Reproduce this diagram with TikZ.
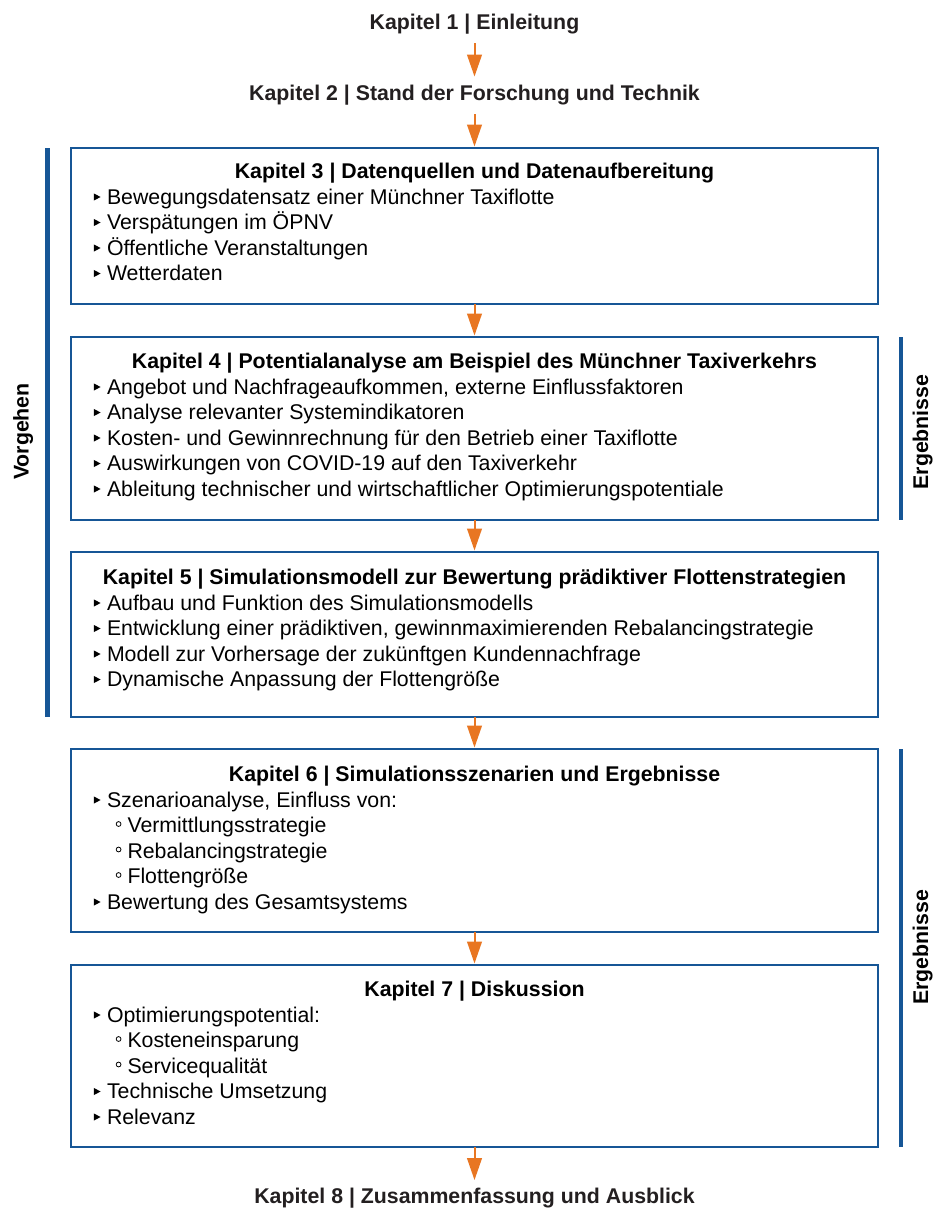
\documentclass[tikz,border=0pt]{standalone}
\usepackage{fontspec}
\setmainfont{Liberation Sans}
\usetikzlibrary{arrows.meta}

\definecolor{frameblue}{RGB}{22,86,150}
\definecolor{arroworange}{RGB}{232,118,34}
\definecolor{headgray}{RGB}{35,31,32}

\tikzset{
  every node/.style={inner sep=0pt, outer sep=0pt},
  itemtext/.style={anchor=base west, text=black, font=\fontsize{21.3}{25.5}\selectfont},
  boxtitle/.style={anchor=base, text=black, font=\fontsize{21.3}{25.5}\selectfont\bfseries},
  outertitle/.style={anchor=base, text=headgray, font=\fontsize{21.3}{25.5}\selectfont\bfseries},
  sidelabel/.style={anchor=base, rotate=90, text=black, font=\fontsize{21.3}{25.5}\selectfont\bfseries},
  chapbox/.style={draw=frameblue, line width=2pt, anchor=north west, minimum width=807pt},
  sidebar/.style={draw=frameblue},
  flow/.style={draw=arroworange, line width=2pt, -{Triangle[width=14.7pt,length=22pt]}},
  itemmark/.style={fill=black},
  subitemmark/.style={draw=black, line width=0.8pt},
}

% bullet list inside a chapter box: #1 name prefix, #2 first baseline, #3 level/text pairs
\newcommand\chapteritems[3]{%
  \foreach \lv/\tx [count=\i] in {#3} {%
    \pgfmathsetmacro\yy{#2+(\i-1)*25.5}%
    \ifnum\lv=1
      \fill[itemmark] (93.8,\yy-10.8) -- (93.8,\yy-3.6) -- (100.6,\yy-7.2) -- cycle;
      \node[itemtext] (#1-\i) at (107,\yy) {\tx};
    \else
      \draw[subitemmark] (118.6,\yy-8.7) circle[radius=2.4pt];
      \node[itemtext] (#1-\i) at (127.5,\yy) {\tx};
    \fi
  }%
}

\begin{document}
\begin{tikzpicture}[x=1pt, y=-1pt]
\useasboundingbox (0,0) rectangle (933,1208);

% chapters outside the boxes
\node[outertitle] (k1) at (474.5,29.7) {Kapitel 1 | Einleitung};
\node[outertitle] (k2) at (474.5,100.7) {Kapitel 2 | Stand der Forschung und Technik};
\node[outertitle] (k8) at (474.5,1203.7) {Kapitel 8 | Zusammenfassung und Ausblick};

% chapter boxes
\node[chapbox, minimum height=156pt] (b3) at (71,148) {};
\node[chapbox, minimum height=183pt] (b4) at (71,337) {};
\node[chapbox, minimum height=165pt] (b5) at (71,552) {};
\node[chapbox, minimum height=183pt] (b6) at (71,749) {};
\node[chapbox, minimum height=182pt] (b7) at (71,965) {};

% chapter 3
\node[boxtitle] (t3) at (474.5,178.7) {Kapitel 3 | Datenquellen und Datenaufbereitung};
\chapteritems{i3}{204.2}{1/Bewegungsdatensatz einer Münchner Taxiflotte,
  1/Verspätungen im ÖPNV, 1/Öffentliche Veranstaltungen, 1/Wetterdaten}

% chapter 4
\node[boxtitle] (t4) at (474.5,368.7) {Kapitel 4 | Potentialanalyse am Beispiel des Münchner Taxiverkehrs};
\chapteritems{i4}{394.2}{1/{Angebot und Nachfrageaufkommen, externe Einflussfaktoren},
  1/Analyse relevanter Systemindikatoren,
  1/Kosten- und Gewinnrechnung für den Betrieb einer Taxiflotte,
  1/Auswirkungen von COVID-19 auf den Taxiverkehr,
  1/Ableitung technischer und wirtschaftlicher Optimierungspotentiale}

% chapter 5
\node[boxtitle] (t5) at (474.5,584.7) {Kapitel 5 | Simulationsmodell zur Bewertung prädiktiver Flottenstrategien};
\chapteritems{i5}{610.2}{1/Aufbau und Funktion des Simulationsmodells,
  1/{Entwicklung einer prädiktiven, gewinnmaximierenden Rebalancingstrategie},
  1/Modell zur Vorhersage der zukünftgen Kundennachfrage,
  1/Dynamische Anpassung der Flottengröße}

% chapter 6
\node[boxtitle] (t6) at (474.5,781.7) {Kapitel 6 | Simulationsszenarien und Ergebnisse};
\chapteritems{i6}{807.2}{1/{Szenarioanalyse, Einfluss von:},
  2/Vermittlungsstrategie, 2/Rebalancingstrategie, 2/Flottengröße,
  1/Bewertung des Gesamtsystems}

% chapter 7
\node[boxtitle] (t7) at (474.5,996.7) {Kapitel 7 | Diskussion};
\chapteritems{i7}{1022.2}{1/Optimierungspotential:,
  2/Kosteneinsparung, 2/Servicequalität,
  1/Technische Umsetzung, 1/Relevanz}

% reading flow
\draw[flow, shorten <=8.8pt, shorten >=8.7pt] (k1.south) -- (k2.north);
\draw[flow, shorten <=9pt, shorten >=1.5pt] (k2.south) -- (b3.north);
\draw[flow, shorten >=1.5pt] (b3.south) -- (b4.north);
\draw[flow, shorten >=1.5pt] (b4.south) -- (b5.north);
\draw[flow, shorten >=1.5pt] (b5.south) -- (b6.north);
\draw[flow, shorten >=1.5pt] (b6.south) -- (b7.north);
\draw[flow, shorten >=8.2pt] (b7.south) -- (k8.north);

% side bars and their labels
\draw[sidebar, line width=5pt] ([xshift=-23.2pt]b3.north west) -- ([xshift=-23.2pt]b5.south west);
\draw[sidebar, line width=4pt] ([xshift=23.4pt]b4.north east) -- ([xshift=23.4pt]b4.south east);
\draw[sidebar, line width=4pt] ([xshift=23.4pt]b6.north east) -- ([xshift=23.4pt]b7.south east);
\node[sidelabel] (vorgehen) at (28.5,431.5) {Vorgehen};
\node[sidelabel] (erg1) at (928,432) {Ergebnisse};
\node[sidelabel] (erg2) at (928,947.5) {Ergebnisse};
\end{tikzpicture}
\end{document}
